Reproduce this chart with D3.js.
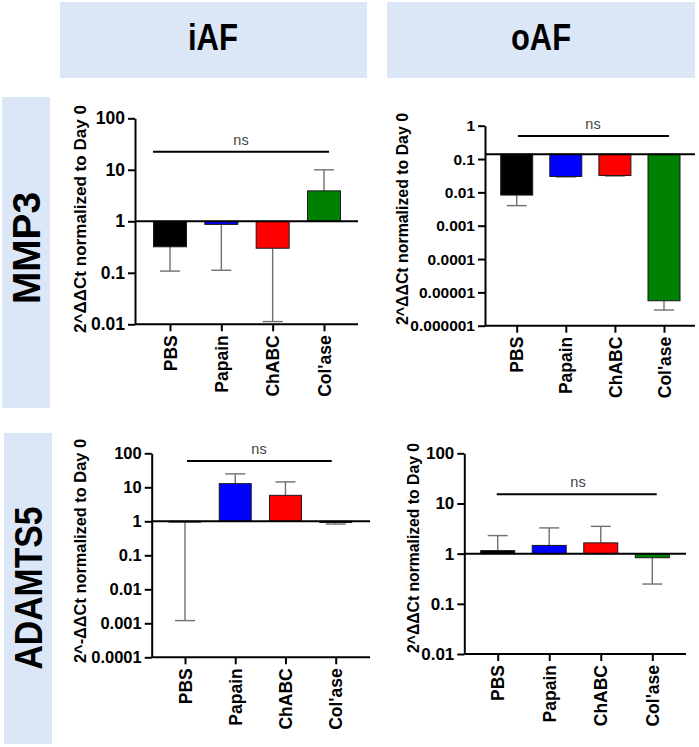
<!DOCTYPE html>
<html>
<head>
<script src="https://d3js.org/d3.v7.min.js"></script>
<style>
  body { margin: 0; background: #fff; font-family: 'Liberation Sans', Arial, sans-serif; }
  svg { display: block; }
</style>
</head>
<body>
<div id="chart"></div>
<script>
// data
var categories = ["PBS", "Papain", "ChABC", "Col'ase"];
var barColors = ["#000000", "#0000ff", "#ff0000", "#008000"];
var columnTitles = ["iAF", "oAF"];
var rowTitles = ["MMP3", "ADAMTS5"];

var mmp3_iAF_mean = [0.32, 0.87, 0.30, 3.9];
var mmp3_iAF_err = [0.108, 0.112, 0.0113, 10];
var mmp3_oAF_mean = [0.0083, 0.030, 0.032, 0.0000056];
var mmp3_oAF_err = [0.0040, 0.029, 0.031, 0.00000295];
var adamts5_iAF_mean = [0.95, 12.8, 5.8, 0.92];
var adamts5_iAF_err = [0.0012, 24.8, 14.4, 0.83];
var adamts5_oAF_mean = [1.15, 1.46, 1.64, 0.83];
var adamts5_oAF_err = [2.29, 3.26, 3.5, 0.248];

var ticks_mmp3_iAF = [0.01, 0.1, 1, 10, 100];
var labels_mmp3_iAF = ["0.01", "0.1", "1", "10", "100"];
var ticks_mmp3_oAF = [0.000001, 0.00001, 0.0001, 0.001, 0.01, 0.1, 1];
var labels_mmp3_oAF = ["0.000001", "0.00001", "0.0001", "0.001", "0.01", "0.1", "1"];
var ticks_adamts5_iAF = [0.0001, 0.001, 0.01, 0.1, 1, 10, 100];
var labels_adamts5_iAF = ["0.0001", "0.001", "0.01", "0.1", "1", "10", "100"];
var ticks_adamts5_oAF = [0.01, 0.1, 1, 10, 100];
var labels_adamts5_oAF = ["0.01", "0.1", "1", "10", "100"];

var baselines = [1, 0.14, 1, 1];
var yTitles = ["2^\u0394\u0394Ct normalized to Day 0", "2^\u0394\u0394Ct normalized to Day 0",
               "2^-\u0394\u0394Ct normalized to Day 0", "2^\u0394\u0394Ct normalized to Day 0"];

var W = 699, H = 747;
var svg = d3.select("#chart").append("svg").attr("width", W).attr("height", H);

// header boxes
var boxFill = "#dbe6f6";
var headers = [{x: 60, w: 307, cx: 213, len: 50}, {x: 387, w: 308, cx: 541, len: 60}];
headers.forEach(function (h, i) {
    svg.append("rect").attr("x", h.x).attr("y", 2).attr("width", h.w).attr("height", 76).attr("fill", boxFill);
    svg.append("text").attr("x", h.cx).attr("y", 50).attr("text-anchor", "middle")
        .attr("font-size", 36).attr("font-weight", "bold")
        .attr("textLength", h.len).attr("lengthAdjust", "spacingAndGlyphs")
        .text(columnTitles[i]);
});

var rowBoxes = [{x: 2, y: 97, h: 311, cy: 248, len: 112}, {x: 4, y: 433, h: 311, cy: 588, len: 163}];
rowBoxes.forEach(function (r, i) {
    svg.append("rect").attr("x", r.x).attr("y", r.y).attr("width", 48).attr("height", r.h).attr("fill", boxFill);
    svg.append("text").attr("transform", "translate(" + (r.x + 38) + "," + r.cy + ") rotate(-90)")
        .attr("text-anchor", "middle").attr("font-size", 39).attr("font-weight", "bold")
        .attr("textLength", r.len).attr("lengthAdjust", "spacingAndGlyphs")
        .text(rowTitles[i]);
});

var panels = [
    {mean: mmp3_iAF_mean, err: mmp3_iAF_err, ticks: ticks_mmp3_iAF, labels: labels_mmp3_iAF,
     ax: 135, xr: 358, yt: 118.3, yb: 324.3, c0: 170, c1: 324, bw: 33, fs: 17.5,
     ns: {x0: 153, x1: 329, y: 151.7, tx: 241}, yl: {x: 80, cy: 219, len: 228}},
    {mean: mmp3_oAF_mean, err: mmp3_oAF_err, ticks: ticks_mmp3_oAF, labels: labels_mmp3_oAF,
     ax: 485, xr: 695, yt: 125.7, yb: 325.7, c0: 516.7, c1: 664, bw: 32, fs: 15.5,
     ns: {x0: 518, x1: 669, y: 136, tx: 593}, yl: {x: 402, cy: 219, len: 212}},
    {mean: adamts5_iAF_mean, err: adamts5_iAF_err, ticks: ticks_adamts5_iAF, labels: labels_adamts5_iAF,
     ax: 151.7, xr: 370, yt: 453.3, yb: 657.3, c0: 185, c1: 335.7, bw: 32, fs: 16.5,
     ns: {x0: 187, x1: 331.7, y: 461, tx: 259}, yl: {x: 80, cy: 551, len: 224}},
    {mean: adamts5_oAF_mean, err: adamts5_oAF_err, ticks: ticks_adamts5_oAF, labels: labels_adamts5_oAF,
     ax: 464.3, xr: 686, yt: 453.3, yb: 654, c0: 497.7, c1: 652.3, bw: 34, fs: 17,
     ns: {x0: 496.7, x1: 656.7, y: 494.3, tx: 578}, yl: {x: 413, cy: 548, len: 210}}
];

panels.forEach(function (p, pi) {
    var g = svg.append("g");
    var y = d3.scaleLog().domain([p.ticks[0], p.ticks[p.ticks.length - 1]]).range([p.yb, p.yt]);
    var x = d3.scalePoint().domain(categories).range([p.c0, p.c1]);
    var base = baselines[pi];

    var rows = categories.map(function (c, i) {
        return {cat: c, mean: p.mean[i], err: p.err[i], color: barColors[i]};
    });

    // error bars (one-sided, grey)
    g.selectAll(".eb").data(rows).enter().append("line")
        .attr("x1", function (d) { return x(d.cat); }).attr("x2", function (d) { return x(d.cat); })
        .attr("y1", function (d) { return y(d.mean); }).attr("y2", function (d) { return y(d.err); })
        .attr("stroke", "#707070").attr("stroke-width", 1.4);
    g.selectAll(".cap").data(rows).enter().append("line")
        .attr("x1", function (d) { return x(d.cat) - 10; }).attr("x2", function (d) { return x(d.cat) + 10; })
        .attr("y1", function (d) { return y(d.err); }).attr("y2", function (d) { return y(d.err); })
        .attr("stroke", "#707070").attr("stroke-width", 1.4);

    // bars grow from the baseline
    g.selectAll(".bar").data(rows).enter().append("rect")
        .attr("x", function (d) { return x(d.cat) - p.bw / 2; })
        .attr("width", p.bw)
        .attr("y", function (d) { return Math.min(y(d.mean), y(base)); })
        .attr("height", function (d) { return Math.abs(y(d.mean) - y(base)); })
        .attr("fill", function (d) { return d.color; })
        .attr("stroke", "#1a1a1a").attr("stroke-width", 1);

    g.append("line").attr("x1", p.ax).attr("x2", p.xr).attr("y1", y(base)).attr("y2", y(base))
        .attr("stroke", "#000").attr("stroke-width", 2);

    // y axis
    var ya = g.append("g").attr("transform", "translate(" + p.ax + ",0)")
        .call(d3.axisLeft(y).tickValues(p.ticks)
            .tickFormat(function (d, i) { return p.labels[i]; })
            .tickSize(7).tickSizeOuter(0).tickPadding(3));
    ya.select(".domain").attr("stroke-width", 2);
    ya.selectAll(".tick line").attr("stroke-width", 2);
    ya.selectAll("text").attr("font-size", p.fs).attr("font-weight", "bold")
        .attr("font-family", "'Liberation Sans', Arial, sans-serif").attr("fill", "#000");

    // x axis
    var xa = g.append("g").attr("transform", "translate(0," + p.yb + ")")
        .call(d3.axisBottom(x).tickSize(7).tickSizeOuter(0));
    xa.select(".domain").remove();
    xa.selectAll(".tick line").attr("stroke-width", 2);
    xa.append("line").attr("x1", p.ax).attr("x2", p.xr).attr("stroke", "#000").attr("stroke-width", 2);
    xa.selectAll("text")
        .attr("transform", "rotate(-90)").attr("text-anchor", "end")
        .attr("x", -11).attr("y", 0).attr("dy", "0.35em")
        .attr("font-size", 17.5).attr("font-weight", "bold")
        .attr("font-family", "'Liberation Sans', Arial, sans-serif").attr("fill", "#000");

    // ns bracket
    g.append("line").attr("x1", p.ns.x0).attr("x2", p.ns.x1).attr("y1", p.ns.y).attr("y2", p.ns.y)
        .attr("stroke", "#000").attr("stroke-width", 2);
    g.append("text").attr("x", p.ns.tx).attr("y", p.ns.y - 7).attr("text-anchor", "middle")
        .attr("font-size", 14.5).attr("fill", "#444").text("ns");

    // y title
    g.append("text").attr("transform", "translate(" + (p.yl.x + 6) + "," + p.yl.cy + ") rotate(-90)")
        .attr("text-anchor", "middle").attr("font-size", 17).attr("font-weight", "bold")
        .attr("textLength", p.yl.len).attr("lengthAdjust", "spacingAndGlyphs")
        .text(yTitles[pi]);
});
</script>
</body>
</html>
